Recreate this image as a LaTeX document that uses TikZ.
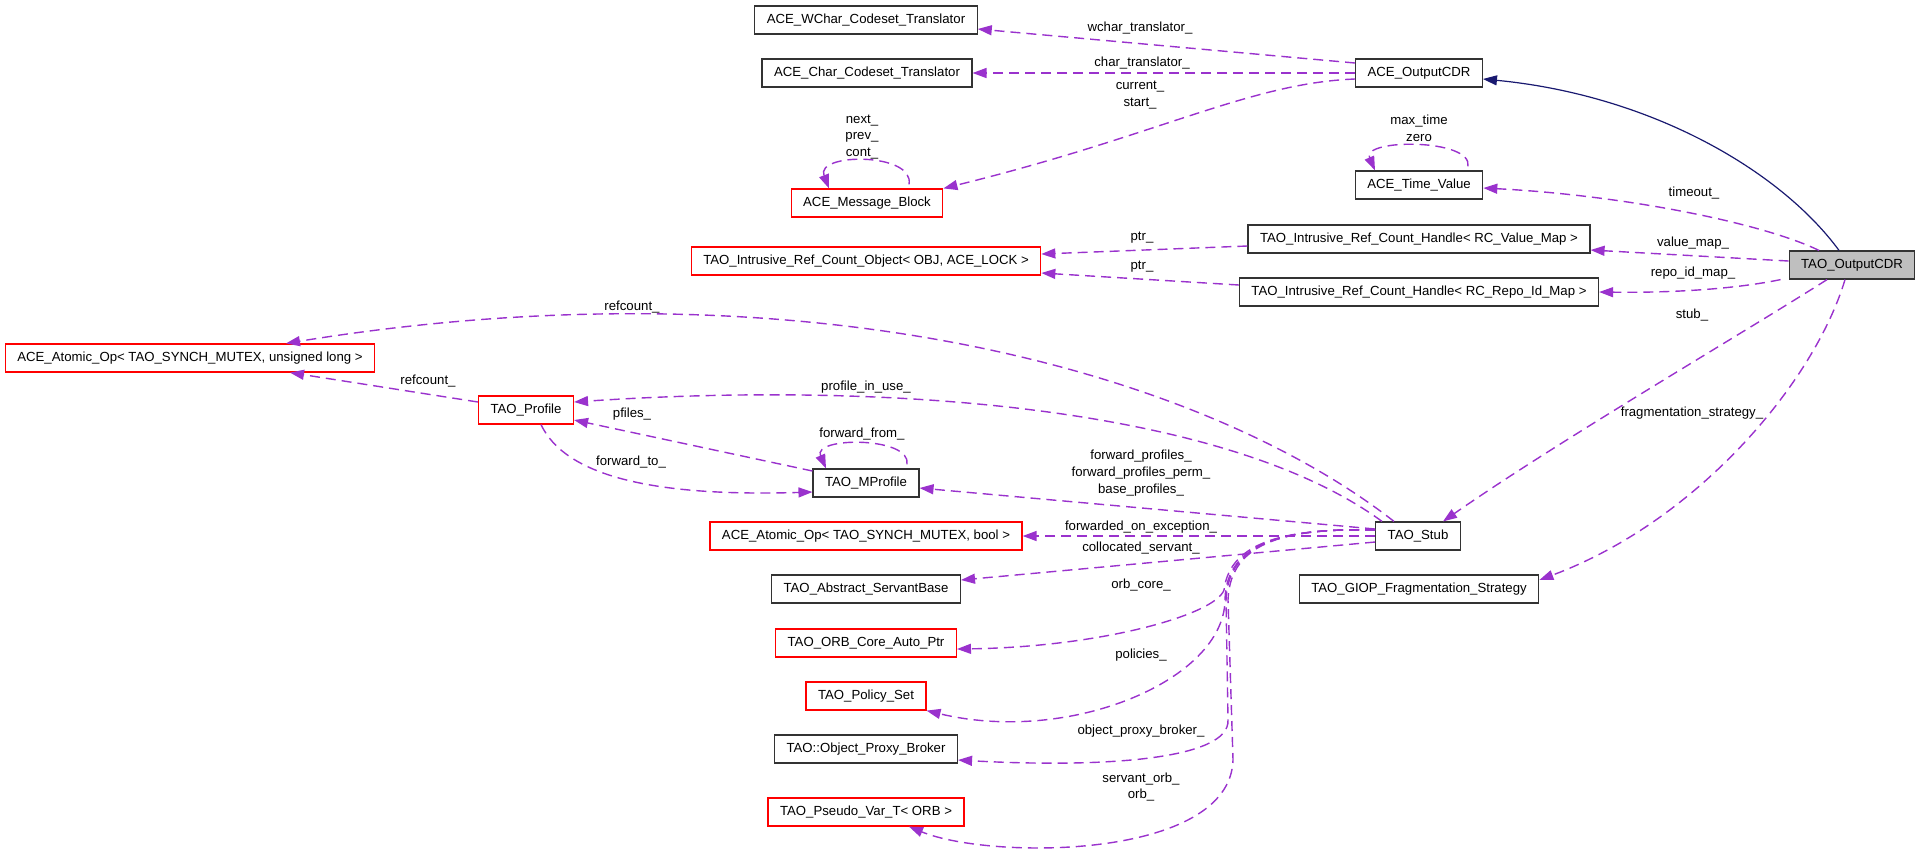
\documentclass[tikz,border=0pt]{standalone}
\usepackage{fontspec}
\setmainfont{Liberation Sans}
\usetikzlibrary{arrows.meta}
\definecolor{edgepurple}{HTML}{9A32CD}
\definecolor{inhnavy}{HTML}{191970}
\definecolor{focusgray}{HTML}{BFBFBF}

\begin{document}
\begin{tikzpicture}[x=0.5pt, y=-0.5pt, font=\fontsize{6.6}{8.4}\selectfont]
    \tikzset{ cls/.style={draw=black!80, line width=0.6pt, fill=white, minimum height=14pt, inner xsep=6pt, inner ysep=0pt, text height=5pt, text depth=1.4pt},
              clsred/.style={cls, draw=red},
              member/.style={draw=edgepurple, dash pattern=on 5pt off 3pt, line width=0.7pt, -{Triangle[length=7pt,width=5pt]}},
              derive/.style={draw=inhnavy, line width=0.6pt, -{Triangle[length=7pt,width=5pt]}},
              lbl/.style={align=center, inner sep=0pt} }
    \useasboundingbox (0,0) rectangle (1917,859);

    \node[cls] (WCharTranslator) at (866,20) {ACE\_WChar\_Codeset\_Translator};
    \node[cls] (CharTranslator) at (867,73) {ACE\_Char\_Codeset\_Translator};
    \node[clsred] (MessageBlock) at (867,203) {ACE\_Message\_Block};
    \node[clsred] (RefCountObject) at (866,261) {TAO\_Intrusive\_Ref\_Count\_Object< OBJ, ACE\_LOCK >};
    \node[cls] (ACEOutputCDR) at (1419,73) {ACE\_OutputCDR};
    \node[cls] (TimeValue) at (1419,185) {ACE\_Time\_Value};
    \node[cls] (ValueMapHandle) at (1419,239) {TAO\_Intrusive\_Ref\_Count\_Handle< RC\_Value\_Map >};
    \node[cls] (RepoIdMapHandle) at (1419,292) {TAO\_Intrusive\_Ref\_Count\_Handle< RC\_Repo\_Id\_Map >};
    \node[cls, fill=focusgray] (TAOOutputCDR) at (1852,265) {TAO\_OutputCDR};
    \node[clsred] (AtomicULong) at (190,358) {ACE\_Atomic\_Op< TAO\_SYNCH\_MUTEX, unsigned long >};
    \node[clsred] (TAOProfile) at (526,410) {TAO\_Profile};
    \node[cls] (TAOMProfile) at (866,483) {TAO\_MProfile};
    \node[clsred] (AtomicBool) at (866,536) {ACE\_Atomic\_Op< TAO\_SYNCH\_MUTEX, bool >};
    \node[cls] (TAOStub) at (1418,536) {TAO\_Stub};
    \node[cls] (ServantBase) at (866,589) {TAO\_Abstract\_ServantBase};
    \node[cls] (GIOPStrategy) at (1419,589) {TAO\_GIOP\_Fragmentation\_Strategy};
    \node[clsred] (ORBCoreAutoPtr) at (866,643) {TAO\_ORB\_Core\_Auto\_Ptr};
    \node[clsred] (PolicySet) at (866,696) {TAO\_Policy\_Set};
    \node[cls] (ObjectProxyBroker) at (866,749) {TAO::Object\_Proxy\_Broker};
    \node[clsred] (PseudoVarT) at (866,812) {TAO\_Pseudo\_Var\_T< ORB >};

    \draw[derive] ([xshift=-6.5pt]TAOOutputCDR.north) .. controls (1780,170) and (1650,95) .. ([yshift=-3pt]ACEOutputCDR.east);

    \draw[member] ([yshift=5pt]ACEOutputCDR.west) -- ([yshift=-4.5pt]WCharTranslator.east);
    \draw[member] (ACEOutputCDR.west) -- (CharTranslator.east);
    \draw[member] ([yshift=-3pt]ACEOutputCDR.west) .. controls (1250,83) and (1160,135) .. (MessageBlock.north east);
    \draw[member] ([xshift=21pt,yshift=2pt]MessageBlock.north) .. controls ([xshift=24pt,yshift=18pt]MessageBlock.north) and ([xshift=-26pt,yshift=18pt]MessageBlock.north) .. ([xshift=-19pt]MessageBlock.north);
    \draw[member] ([xshift=24.5pt,yshift=2pt]TimeValue.north) .. controls ([xshift=27pt,yshift=16pt]TimeValue.north) and ([xshift=-29pt,yshift=16pt]TimeValue.north) .. ([xshift=-22pt]TimeValue.north);
    \draw[member] ([xshift=-16.5pt]TAOOutputCDR.north) .. controls (1760,222) and (1620,195) .. ([yshift=-1.5pt]TimeValue.east);
    \draw[member] ([yshift=2pt]TAOOutputCDR.west) -- ([yshift=-5.5pt]ValueMapHandle.east);
    \draw[member] ([xshift=-4pt]TAOOutputCDR.south west) .. controls (1740,288) and (1680,293) .. (RepoIdMapHandle.east);
    \draw[member] ([yshift=-3.5pt]ValueMapHandle.west) -- ([yshift=3.5pt]RefCountObject.east);
    \draw[member] ([yshift=3.5pt]RepoIdMapHandle.west) -- ([yshift=-6pt]RefCountObject.east);
    \draw[member] ([xshift=-12.5pt]TAOOutputCDR.south) .. controls (1740,335) and (1560,440) .. ([xshift=12.5pt]TAOStub.north);
    \draw[member] ([xshift=-3.5pt]TAOOutputCDR.south) .. controls (1815,380) and (1700,520) .. ([yshift=4.5pt]GIOPStrategy.east);

    \draw[member] ([xshift=-12pt]TAOStub.north) .. controls (1200,370) and (800,260) .. ([xshift=48pt]AtomicULong.north);
    \draw[member] ([yshift=4pt]TAOProfile.west) -- ([xshift=50pt]AtomicULong.south);
    \draw[member] ([xshift=-18pt]TAOStub.north) .. controls (1230,410) and (900,380) .. ([yshift=4pt]TAOProfile.east);
    \draw[member] ([yshift=6pt]TAOMProfile.west) -- ([yshift=-5pt]TAOProfile.east);
    \draw[member] ([xshift=7.5pt]TAOProfile.south) .. controls (565,475) and (650,497) .. ([yshift=-4.5pt]TAOMProfile.west);
    \draw[member] ([xshift=20.5pt,yshift=2pt]TAOMProfile.north) .. controls ([xshift=23pt,yshift=16pt]TAOMProfile.north) and ([xshift=-27pt,yshift=16pt]TAOMProfile.north) .. ([xshift=-20pt]TAOMProfile.north);
    \draw[member] ([yshift=3.5pt]TAOStub.west) -- ([yshift=-2.5pt]TAOMProfile.east);
    \draw[member] (TAOStub.west) -- (AtomicBool.east);
    \draw[member] ([yshift=-3pt]TAOStub.west) -- ([yshift=4.5pt]ServantBase.east);
    \draw[member] ([yshift=3pt]TAOStub.west) .. controls (1290,528) and (1230,540) .. (1224,590) .. controls (1215,615) and (1100,647) .. ([yshift=-3pt]ORBCoreAutoPtr.east);
    \draw[member] ([yshift=3pt]TAOStub.west) .. controls (1290,528) and (1226,540) .. (1225,600) .. controls (1224,680) and (1070,745) .. (PolicySet.south east);
    \draw[member] ([yshift=3pt]TAOStub.west) .. controls (1290,528) and (1228,540) .. (1226,600) -- (1228,720) .. controls (1230,760) and (1100,768) .. ([yshift=-5.5pt]ObjectProxyBroker.east);
    \draw[member] ([yshift=3pt]TAOStub.west) .. controls (1290,528) and (1230,540) .. (1228,600) -- (1233,760) .. controls (1230,860) and (990,860) .. ([xshift=21.5pt]PseudoVarT.south);

    \node[lbl] (lWChar) at (1140,28) {wchar\_translator\_};
    \node[lbl] (lChar) at (1142,63) {char\_translator\_};
    \node[lbl] (lCurrent) at (1140,95) {current\_\\start\_};
    \node[lbl] (lNext) at (862,137) {next\_\\prev\_\\cont\_};
    \node[lbl] (lMaxTime) at (1419,128) {max\_time\\zero};
    \node[lbl] (lTimeout) at (1694,193) {timeout\_};
    \node[lbl] (lValueMap) at (1693,243) {value\_map\_};
    \node[lbl] (lRepoIdMap) at (1693,273) {repo\_id\_map\_};
    \node[lbl] (lPtrA) at (1142,238) {ptr\_};
    \node[lbl] (lPtrB) at (1142,267) {ptr\_};
    \node[lbl] (lStub) at (1692,315) {stub\_};
    \node[lbl] (lFragment) at (1692,413) {fragmentation\_strategy\_};
    \node[lbl] (lRefcountA) at (632,307) {refcount\_};
    \node[lbl] (lRefcountB) at (428,381) {refcount\_};
    \node[lbl] (lInUse) at (866,387) {profile\_in\_use\_};
    \node[lbl] (lPfiles) at (632,414) {pfiles\_};
    \node[lbl] (lForwardTo) at (631,462) {forward\_to\_};
    \node[lbl] (lForwardFrom) at (862,434) {forward\_from\_};
    \node[lbl] (lProfiles) at (1141,473) {forward\_profiles\_\\forward\_profiles\_perm\_\\base\_profiles\_};
    \node[lbl] (lOnException) at (1141,527) {forwarded\_on\_exception\_};
    \node[lbl] (lCollocated) at (1141,548) {collocated\_servant\_};
    \node[lbl] (lORBCore) at (1141,585) {orb\_core\_};
    \node[lbl] (lPolicies) at (1141,655) {policies\_};
    \node[lbl] (lProxy) at (1141,731) {object\_proxy\_broker\_};
    \node[lbl] (lOrb) at (1141,787) {servant\_orb\_\\orb\_};
\end{tikzpicture}
\end{document}
